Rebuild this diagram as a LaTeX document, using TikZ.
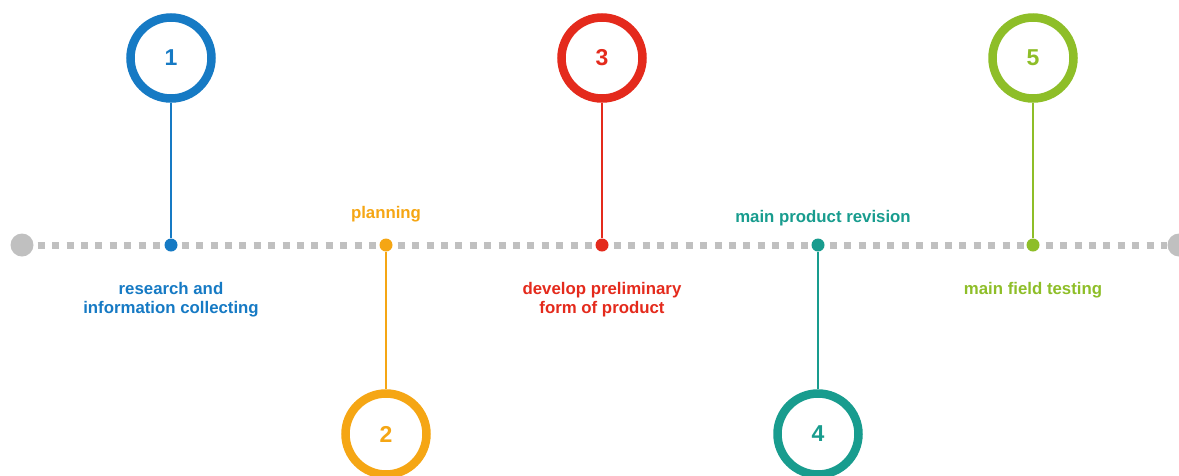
\documentclass[tikz,border=0pt]{standalone}
\usepackage{fontspec}
\setmainfont{Liberation Sans}
\usepackage{tikz}

\definecolor{stepblue}{RGB}{22,122,196}
\definecolor{steporange}{RGB}{245,166,20}
\definecolor{stepred}{RGB}{228,42,28}
\definecolor{stepteal}{RGB}{24,156,142}
\definecolor{stepgreen}{RGB}{142,190,40}
\definecolor{linegray}{RGB}{192,192,192}

\tikzset{
    ring/.style={circle, draw=#1, line width=8.5pt, minimum size=81pt, inner sep=0pt,
        text=#1, font=\bfseries\fontsize{23}{23}\selectfont},
    knot/.style={circle, fill=#1, minimum size=13pt, inner sep=0pt},
    stem/.style={draw=#1, line width=2.8pt},
    caption/.style={text=#1, align=center, font=\bfseries\fontsize{16.8}{19.5}\selectfont},
    endcap/.style={circle, fill=linegray, minimum size=23pt, inner sep=0pt}
}

\begin{document}
\begin{tikzpicture}[x=1pt, y=-1pt]

            \clip (0,0) rectangle (1179,475);
            \useasboundingbox (0,0) rectangle (1179,475);

            \node (start) [endcap] at (22,245) {};
            \node (finish) [endcap] at (1179,245) {};
            \draw [linegray, line width=7pt, dash pattern=on 7pt off 7.4pt]
                (start.east) ++(4,0) -- (finish.west);

            \node (knot1) [knot=stepblue] at (171,245) {};
            \node (knot2) [knot=steporange] at (386,245) {};
            \node (knot3) [knot=stepred] at (602,245) {};
            \node (knot4) [knot=stepteal] at (818,245) {};
            \node (knot5) [knot=stepgreen] at (1033,245) {};

            \node (ring1) [ring=stepblue] at (171,58) {1};
            \node (ring2) [ring=steporange] at (386,434) {2};
            \node (ring3) [ring=stepred] at (602,58) {3};
            \node (ring4) [ring=stepteal] at (818,434) {4};
            \node (ring5) [ring=stepgreen] at (1033,58) {5};

            \draw [stem=stepblue] (ring1) -- (knot1);
            \draw [stem=steporange] (ring2) -- (knot2);
            \draw [stem=stepred] (ring3) -- (knot3);
            \draw [stem=stepteal] (ring4) -- (knot4);
            \draw [stem=stepgreen] (ring5) -- (knot5);

            \node (label1) [caption=stepblue, anchor=north] at (171,278.5) {research and\\information collecting};
            \node (label2) [caption=steporange, anchor=south] at (386,226) {planning};
            \node (label3) [caption=stepred, anchor=north] at (602,278.5) {develop preliminary\\form of product};
            \node (label4) [caption=stepteal, anchor=south] at (823,230) {main product revision};
            \node (label5) [caption=stepgreen, anchor=north] at (1033,278.5) {main field testing};

        \end{tikzpicture}
\end{document}
